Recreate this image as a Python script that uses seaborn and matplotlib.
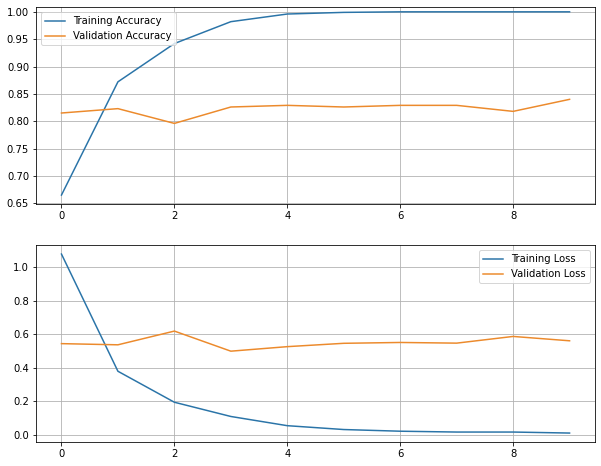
import matplotlib
matplotlib.use("Agg")
import matplotlib.pyplot as plt
import seaborn as sns

epochs = list(range(10))
train_acc = [0.665, 0.872, 0.942, 0.982, 0.996, 0.999, 1.0, 1.0, 1.0, 1.0]
val_acc = [0.815, 0.823, 0.796, 0.826, 0.829, 0.826, 0.829, 0.829, 0.818, 0.840]
train_loss = [1.08, 0.38, 0.195, 0.11, 0.055, 0.032, 0.022, 0.017, 0.017, 0.011]
val_loss = [0.545, 0.538, 0.62, 0.50, 0.527, 0.547, 0.552, 0.548, 0.588, 0.562]

blue = "#2a74a8"
orange = "#ec8a2c"

DPI = 72
fig, (ax1, ax2) = plt.subplots(2, 1, figsize=(601 / DPI, 466 / DPI), dpi=DPI)
fig.subplots_adjust(left=0.06, right=0.99, top=0.984, bottom=0.0515, hspace=0.207)

sns.lineplot(x=epochs, y=train_acc, ax=ax1, color=blue, lw=1.5, label="Training Accuracy")
sns.lineplot(x=epochs, y=val_acc, ax=ax1, color=orange, lw=1.5, label="Validation Accuracy")
ax1.legend(loc="upper left")
ax1.grid(True, color="#b0b0b0")
ax1.set_yticks([0.65, 0.70, 0.75, 0.80, 0.85, 0.90, 0.95, 1.00])
ax1.set_ylim(0.648, 1.008)

sns.lineplot(x=epochs, y=train_loss, ax=ax2, color=blue, lw=1.5, label="Training Loss")
sns.lineplot(x=epochs, y=val_loss, ax=ax2, color=orange, lw=1.5, label="Validation Loss")
ax2.legend(loc="upper right")
ax2.grid(True, color="#b0b0b0")

for ax in (ax1, ax2):
    ax.set_xticks([0, 2, 4, 6, 8])

fig.savefig("out.png", dpi=DPI)
